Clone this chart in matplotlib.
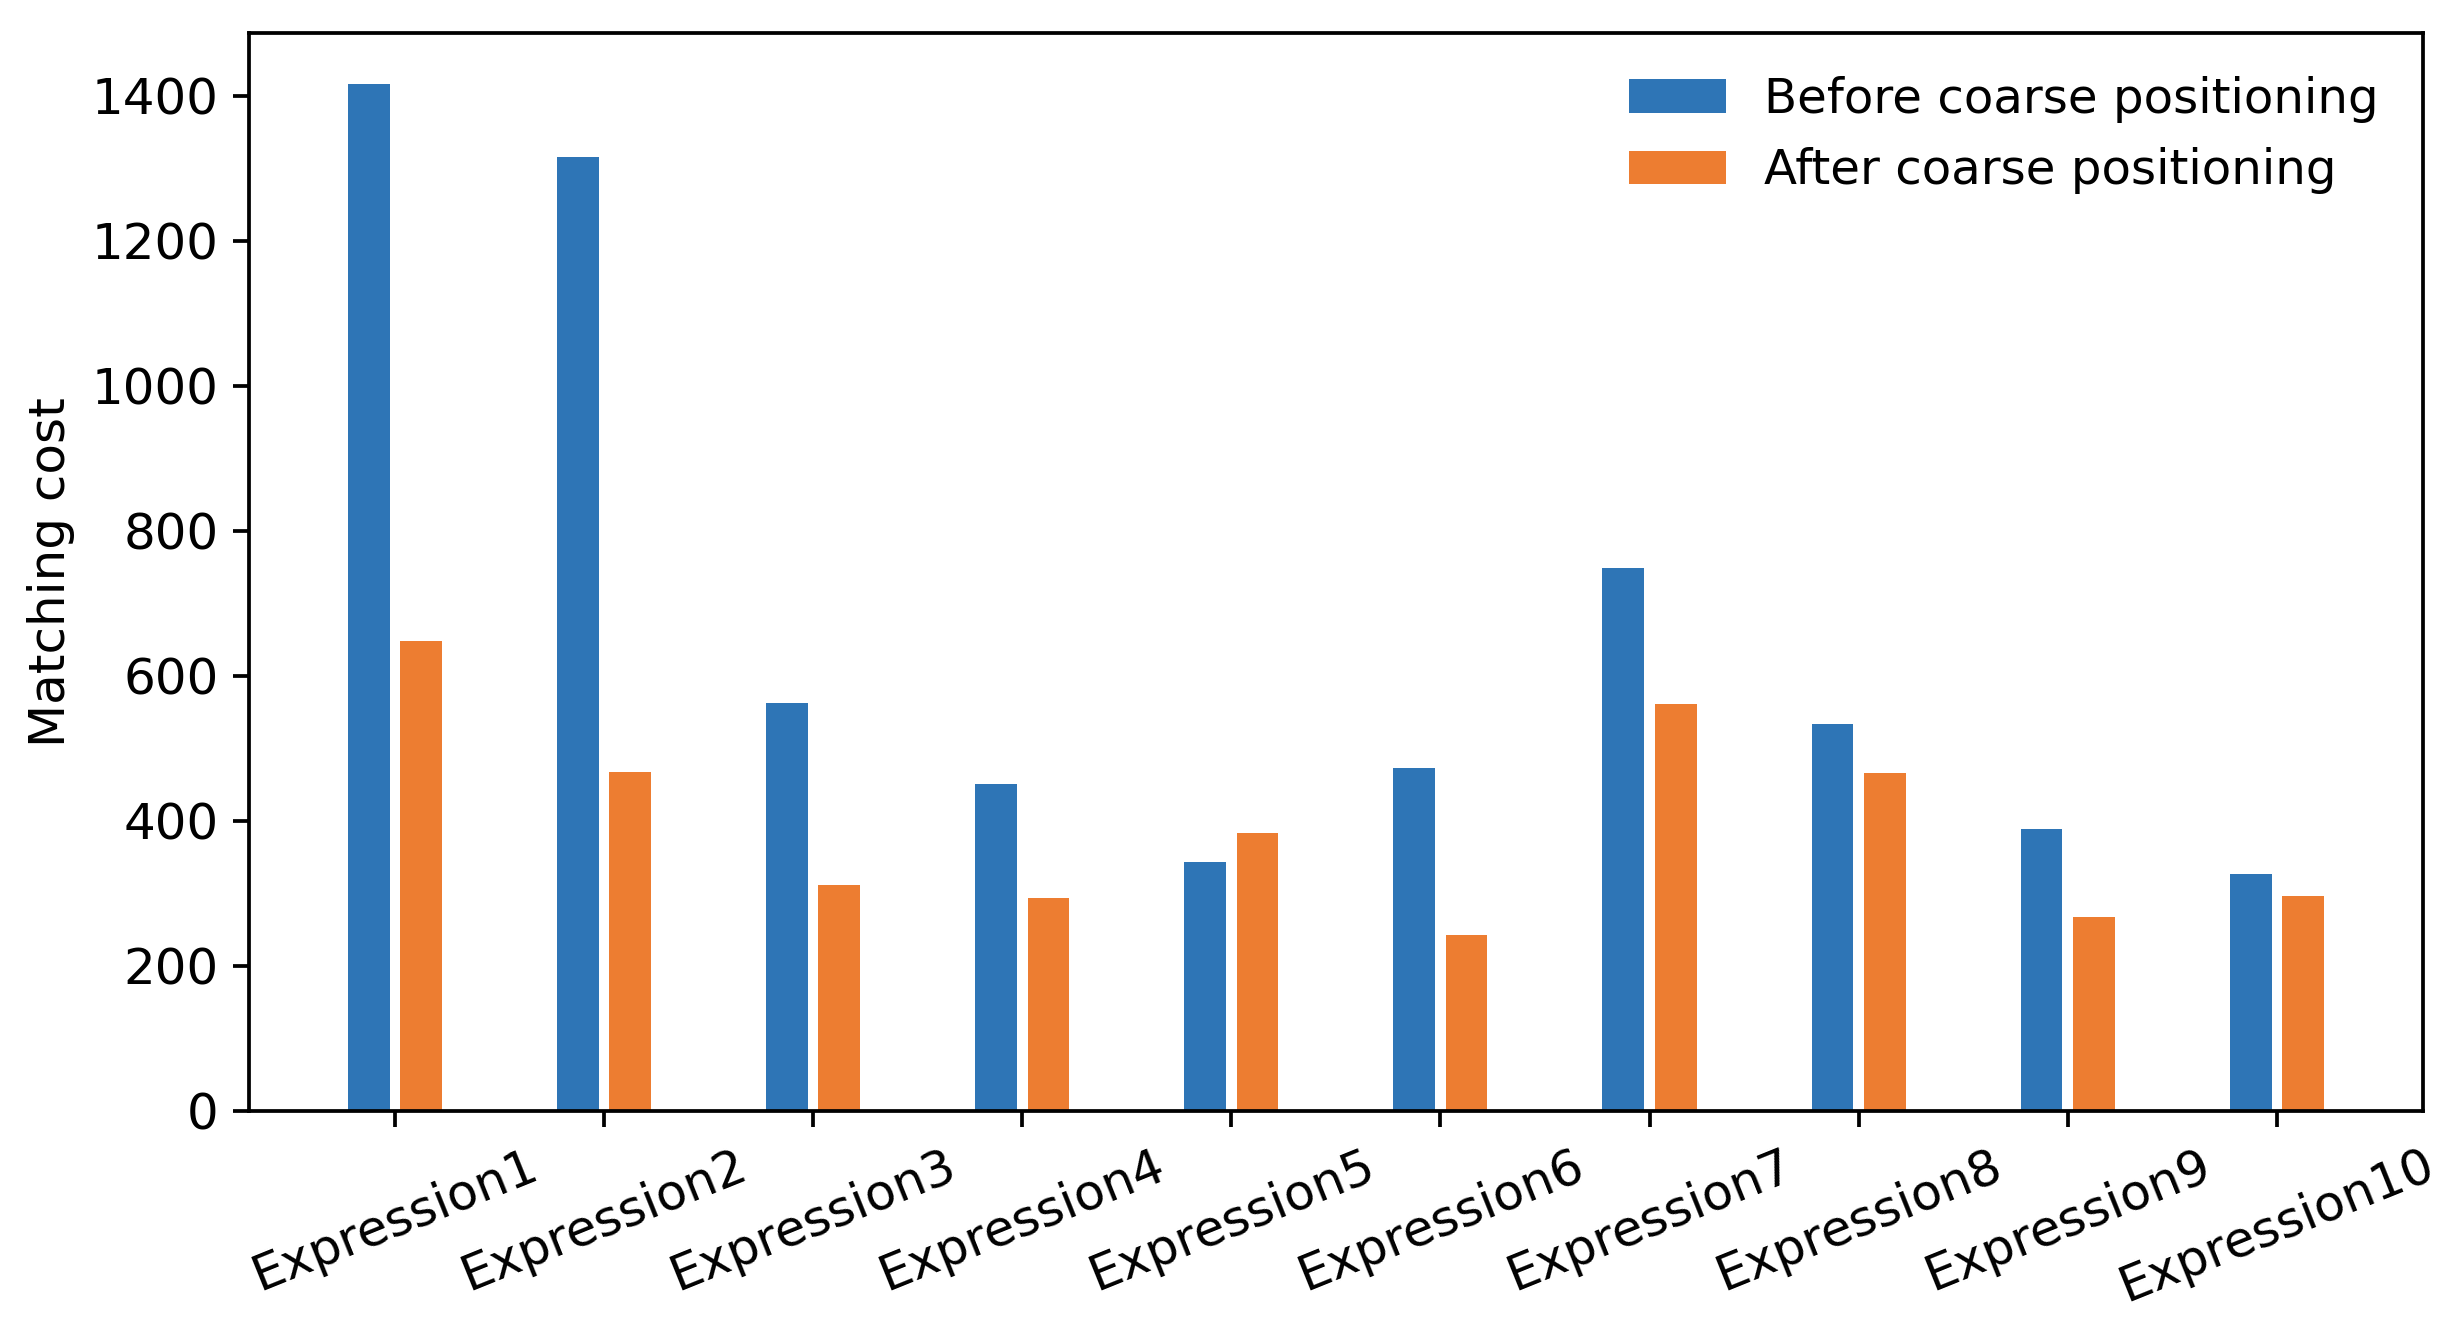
import matplotlib
matplotlib.use('Agg')
import matplotlib.pyplot as plt
import numpy as np

plt.rcParams['font.family'] = ['DejaVu Sans']
plt.rcParams['font.size'] = 12

_c_before = '#2e75b6'
_c_after = '#ed7d31'

labels = ['Expression%d' % i for i in range(1, 11)]
before = [1416, 1315, 563, 451, 343, 473, 749, 533, 389, 327]
after = [648, 468, 311, 294, 384, 242, 561, 466, 267, 297]

x = np.arange(len(labels))
width = 0.2

fig = plt.figure(figsize=(2453 / 300, 1331 / 300), dpi=300)
ax = fig.add_axes([0.1016, 0.1653, 0.886, 0.8101])

ax.bar(x - 0.125, before, width, color=_c_before, label='Before coarse positioning')
ax.bar(x + 0.125, after, width, color=_c_after, label='After coarse positioning')

ax.set_xticks(x)
ax.set_xticklabels(labels, rotation=22)
ax.set_ylabel('Matching cost')
ax.tick_params(axis='both', length=3.8, width=0.9)
for s in ax.spines.values():
    s.set_linewidth(0.9)

ax.legend(loc='upper right', frameon=False, fontsize=11.6)

fig.savefig('out.png', dpi=300)
